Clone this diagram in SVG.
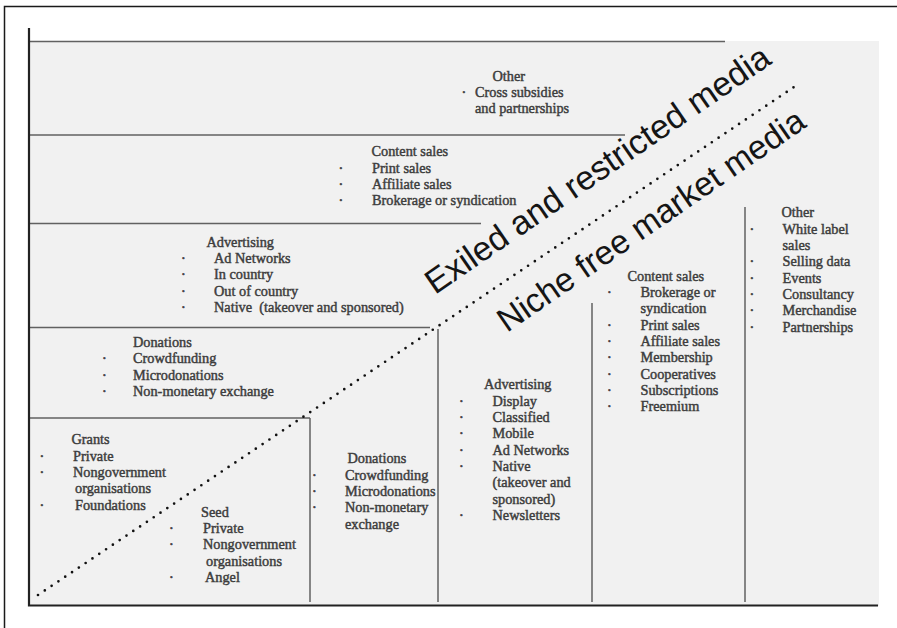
<svg xmlns="http://www.w3.org/2000/svg" width="897" height="628" viewBox="0 0 897 628">
  <style>
    .t { font-family: "Liberation Serif", "Times New Roman", serif; font-size: 14.3px; fill: #3d3d3d; stroke: #3d3d3d; stroke-width: 0.45px; }
    .b { font-family: "Liberation Serif", "Times New Roman", serif; font-size: 14.3px; fill: #3d3d3d; stroke: #3d3d3d; stroke-width: 0.6px; text-anchor: middle; }
    .big { font-family: "Liberation Sans", Arial, sans-serif; font-size: 34px; fill: #151515; }
    .grid { stroke: #616161; stroke-width: 1.5; fill: none; }
    .axis { stroke: #222; stroke-width: 2.2; fill: none; }
  </style>

  <rect width="897" height="628" fill="#ffffff"/>
  <!-- outer frame -->
  <path d="M4.5,628 V6.5 H897" fill="none" stroke="#1a1a1a" stroke-width="1.5"/>

  <!-- chart field -->
  <rect x="30" y="41" width="849" height="565" fill="#f1f1f1"/>

  <g id="connectors">
    <!-- horizontal band dividers -->
    <path class="grid" d="M30,41.5 H725 M30,135 H625 M30,223.5 H481 M30,327.5 H430 M30,418 H310"/>
    <!-- vertical column dividers -->
    <path class="grid" d="M310,418 V602 M438,329 V602 M592,303 V602 M745,207 V602"/>
    <!-- axes -->
    <path class="axis" d="M29,28 V605.5 H878"/>
    <!-- dotted boundary -->
    <path d="M38,595 L800,83" fill="none" stroke="#111" stroke-width="2.7" stroke-linecap="round" stroke-dasharray="0 8.2"/>
  </g>

  <g id="label-exiled">
    <text class="big" transform="translate(435,295) rotate(-34.5)">Exiled and restricted media</text>
  </g>
  <g id="label-niche">
    <text class="big" font-size="33.5" transform="translate(507,333) rotate(-34.5)" style="font-size:33.5px">Niche free market media</text>
  </g>

  <g id="band-other">
    <text class="t" x="492.5" y="81">Other</text>
    <text class="b" x="464" y="97">·</text>
    <text class="t" x="475" y="97">Cross subsidies</text>
    <text class="t" x="475" y="113">and partnerships</text>
  </g>

  <g id="band-content-sales">
    <text class="t" x="371.5" y="156">Content sales</text>
    <text class="b" x="341" y="172.5">·</text>
    <text class="t" x="372" y="172.5">Print sales</text>
    <text class="b" x="341" y="188.8">·</text>
    <text class="t" x="372" y="188.8">Affiliate sales</text>
    <text class="b" x="341" y="205">·</text>
    <text class="t" x="372" y="205">Brokerage or syndication</text>
  </g>

  <g id="band-advertising">
    <text class="t" x="206.5" y="246.5">Advertising</text>
    <text class="b" x="183.5" y="262.8">·</text>
    <text class="t" x="214" y="262.8">Ad Networks</text>
    <text class="b" x="183.5" y="279.2">·</text>
    <text class="t" x="214" y="279.2">In country</text>
    <text class="b" x="183.5" y="295.6">·</text>
    <text class="t" x="214" y="295.6">Out of country</text>
    <text class="b" x="183.5" y="312">·</text>
    <text class="t" x="214" y="312" xml:space="preserve">Native  (takeover and sponsored)</text>
  </g>

  <g id="band-donations">
    <text class="t" x="133" y="346.5">Donations</text>
    <text class="b" x="104.5" y="363">·</text>
    <text class="t" x="133" y="363">Crowdfunding</text>
    <text class="b" x="104.5" y="379.5">·</text>
    <text class="t" x="133" y="379.5">Microdonations</text>
    <text class="b" x="104.5" y="396">·</text>
    <text class="t" x="133" y="396">Non-monetary exchange</text>
  </g>

  <g id="cell-grants">
    <text class="t" x="71.5" y="444.3">Grants</text>
    <text class="b" x="42" y="460.7">·</text>
    <text class="t" x="73" y="460.7">Private</text>
    <text class="b" x="42" y="477">·</text>
    <text class="t" x="73" y="477">Nongovernment</text>
    <text class="t" x="75" y="493.3">organisations</text>
    <text class="b" x="42" y="509.7">·</text>
    <text class="t" x="75" y="509.7">Foundations</text>
  </g>

  <g id="cell-seed">
    <text class="t" x="201" y="516.7">Seed</text>
    <text class="b" x="171.5" y="533">·</text>
    <text class="t" x="203" y="533">Private</text>
    <text class="b" x="171.5" y="549.3">·</text>
    <text class="t" x="203" y="549.3">Nongovernment</text>
    <text class="t" x="206" y="565.7">organisations</text>
    <text class="b" x="171.5" y="582">·</text>
    <text class="t" x="205" y="582">Angel</text>
  </g>

  <g id="col-donations">
    <text class="t" x="347.5" y="463.3">Donations</text>
    <text class="b" x="314.5" y="479.7">·</text>
    <text class="t" x="345" y="479.7">Crowdfunding</text>
    <text class="b" x="314.5" y="496">·</text>
    <text class="t" x="345" y="496">Microdonations</text>
    <text class="b" x="314.5" y="512.3">·</text>
    <text class="t" x="345" y="512.3">Non-monetary</text>
    <text class="t" x="345" y="528.7">exchange</text>
  </g>

  <g id="col-advertising">
    <text class="t" x="484" y="389.3">Advertising</text>
    <text class="b" x="461.5" y="405.7">·</text>
    <text class="t" x="492.5" y="405.7">Display</text>
    <text class="b" x="461.5" y="422">·</text>
    <text class="t" x="492.5" y="422">Classified</text>
    <text class="b" x="461.5" y="438.3">·</text>
    <text class="t" x="492.5" y="438.3">Mobile</text>
    <text class="b" x="461.5" y="454.7">·</text>
    <text class="t" x="492.5" y="454.7">Ad Networks</text>
    <text class="b" x="461.5" y="471">·</text>
    <text class="t" x="492.5" y="471">Native</text>
    <text class="t" x="492.5" y="487.3">(takeover and</text>
    <text class="t" x="492.5" y="503.7">sponsored)</text>
    <text class="b" x="461.5" y="520">·</text>
    <text class="t" x="492.5" y="520">Newsletters</text>
  </g>

  <g id="col-content-sales">
    <text class="t" x="627.5" y="280.7">Content sales</text>
    <text class="b" x="609.5" y="297">·</text>
    <text class="t" x="640.5" y="297">Brokerage or</text>
    <text class="t" x="640.5" y="313.3">syndication</text>
    <text class="b" x="609.5" y="329.7">·</text>
    <text class="t" x="640.5" y="329.7">Print sales</text>
    <text class="b" x="609.5" y="346">·</text>
    <text class="t" x="640.5" y="346">Affiliate sales</text>
    <text class="b" x="609.5" y="362.3">·</text>
    <text class="t" x="640.5" y="362.3">Membership</text>
    <text class="b" x="609.5" y="378.7">·</text>
    <text class="t" x="640.5" y="378.7">Cooperatives</text>
    <text class="b" x="609.5" y="395">·</text>
    <text class="t" x="640.5" y="395">Subscriptions</text>
    <text class="b" x="609.5" y="411.3">·</text>
    <text class="t" x="640.5" y="411.3">Freemium</text>
  </g>

  <g id="col-other">
    <text class="t" x="781.5" y="217.3">Other</text>
    <text class="b" x="752" y="233.7">·</text>
    <text class="t" x="782.5" y="233.7">White label</text>
    <text class="t" x="782.5" y="250">sales</text>
    <text class="b" x="752" y="266.3">·</text>
    <text class="t" x="782.5" y="266.3">Selling data</text>
    <text class="b" x="752" y="282.7">·</text>
    <text class="t" x="782.5" y="282.7">Events</text>
    <text class="b" x="752" y="299">·</text>
    <text class="t" x="782.5" y="299">Consultancy</text>
    <text class="b" x="752" y="315.3">·</text>
    <text class="t" x="782.5" y="315.3">Merchandise</text>
    <text class="b" x="752" y="331.7">·</text>
    <text class="t" x="782.5" y="331.7">Partnerships</text>
  </g>
</svg>
